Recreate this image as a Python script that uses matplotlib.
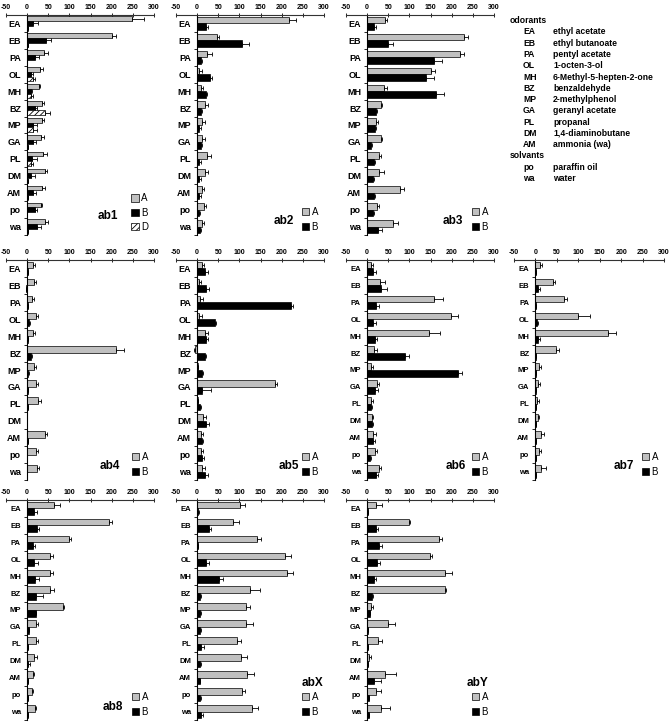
import matplotlib
matplotlib.use("Agg")
import matplotlib.pyplot as plt
from matplotlib.patches import Patch
import numpy as np

plt.rcParams["font.family"] = ["Liberation Sans", "DejaVu Sans"]
plt.rcParams["hatch.linewidth"] = 0.6

CATS = ["EA", "EB", "PA", "OL", "MH", "BZ", "MP", "GA", "PL", "DM", "AM", "po", "wa"]
XTICKS = [-50, 0, 50, 100, 150, 200, 250, 300]

ODORANTS = ["EA", "EB", "PA", "OL", "MH", "BZ", "MP", "GA", "PL", "DM", "AM"]
ODOR_NAMES = ["ethyl acetate", "ethyl butanoate", "pentyl acetate", "1-octen-3-ol",
              "6-Methyl-5-hepten-2-one", "benzaldehyde", "2-methylphenol",
              "geranyl acetate", "propanal", "1,4-diaminobutane", "ammonia (wa)"]
SOLVENTS = ["po", "wa"]
SOLV_NAMES = ["paraffin oil", "water"]

# responses (mean, one-sided error) per sensillum, order = CATS
ab1_a = [247, 200, 40, 30, 27, 35, 35, 33, 38, 43, 35, 32, 42]
ab1_a_err = [30, 10, 10, 8, 3, 5, 5, 7, 10, 3, 7, 4, 7]
ab1_b = [14, 44, 18, 8, 8, 18, 15, 15, 12, 10, 15, 18, 23]
ab1_b_err = [12, 12, 10, 5, 3, 6, 8, 6, 12, 8, 6, 5, 10]
ab1_d = [1, 2, 0, 14, 10, 43, 15, 2, 10, 2, 2, 0, 2]
ab1_d_err = [0, 0, 0, 4, 3, 12, 8, 0, 3, 0, 0, 0, 0]

ab2_a = [217, 46, 24, 5, 8, 18, 12, 12, 24, 18, 11, 16, 11]
ab2_a_err = [16, 5, 10, 6, 5, 8, 6, 6, 8, 8, 6, 5, 6]
ab2_b = [20, 105, 8, 30, 20, 8, 5, 8, 5, 5, 5, 5, 6]
ab2_b_err = [5, 17, 3, 4, 4, 3, 3, 3, 4, 3, 3, 2, 4]

ab3_a = [42, 228, 220, 152, 40, 32, 21, 32, 28, 28, 77, 24, 62]
ab3_a_err = [6, 10, 10, 8, 8, 4, 4, 2, 4, 12, 10, 5, 10]
ab3_b = [16, 50, 158, 140, 163, 20, 18, 10, 16, 14, 17, 14, 26]
ab3_b_err = [4, 10, 20, 18, 18, 3, 3, 1, 3, 3, 2, 2, 8]

ab4_a = [13, 16, 12, 20, 13, 211, 16, 22, 25, -1, 43, 20, 23]
ab4_a_err = [5, 5, 4, 6, 5, 18, 5, 3, 8, 0, 3, 5, 6]
ab4_b = [2, -2, 2, 4, 3, 9, 3, 1, 1, -1, 1, -1, -1]
ab4_b_err = [0, 0, 0, 2, 0, 3, 2, 0, 0, 0, 0, 0, 0]

ab5_a = [12, 4, 6, 4, 19, -6, 1, 185, 1, 15, 8, 8, 12]
ab5_a_err = [5, 4, 7, 7, 6, 2, 2, 3, 0, 6, 5, 6, 6]
ab5_b = [18, 22, 222, 43, 22, 19, 12, 12, 6, 22, 12, 12, 19]
ab5_b_err = [8, 5, 4, 2, 4, 3, 3, 20, 4, 5, 3, 5, 6]

ab6_a = [8, 31, 157, 199, 147, 17, 9, 23, 10, 12, 15, 19, 27]
ab6_a_err = [5, 12, 23, 16, 25, 6, 6, 5, 3, 3, 6, 5, 6]
ab6_b = [15, 33, 22, 14, 19, 90, 214, 19, 8, 12, 14, 6, 21]
ab6_b_err = [6, 15, 5, 6, 5, 10, 10, 6, 4, 2, 5, 2, 5]

ab7_a = [10, 40, 67, 100, 170, 47, 9, 7, 4, 6, 12, 8, 13]
ab7_a_err = [6, 5, 6, 27, 18, 7, 4, 4, 5, 3, 9, 5, 12]
ab7_b = [1, 7, 1, 4, 7, 1, 1, 1, 1, 1, 1, 1, 1]
ab7_b_err = [0, 3, 0, 2, 3, 0, 0, 0, 0, 0, 0, 0, 0]

ab8_a = [63, 194, 100, 55, 53, 55, 84, 21, 22, 16, 14, 11, 18]
ab8_a_err = [15, 7, 4, 7, 9, 9, 4, 5, 4, 7, 3, 3, 4]
ab8_b = [17, 24, 15, 16, 19, 21, 21, 5, 1, 1, 1, 1, 1]
ab8_b_err = [7, 3, 4, 9, 9, 16, 0, 0, 0, 5, 0, 0, 0]

abx_a = [101, 84, 142, 208, 213, 126, 116, 116, 94, 104, 118, 105, 130]
abx_a_err = [13, 14, 8, 13, 14, 22, 10, 17, 9, 15, 16, 9, 14]
abx_b = [2, 28, 2, 20, 52, 7, 7, 6, 10, 6, 6, 6, 10]
abx_b_err = [2, 4, 0, 8, 10, 2, 2, 2, 6, 2, 1, 3, 3]

aby_a = [21, 98, 171, 148, 183, 184, 8, 50, 25, 4, 42, 21, 32]
aby_a_err = [13, 3, 6, 6, 18, 3, 6, 17, 10, 5, 26, 12, 22]
aby_b = [1, 21, 29, 24, 16, 12, 6, 1, 1, 1, 17, 4, 4]
aby_b_err = [0, 5, 5, 6, 6, 2, 1, 0, 0, 0, 16, 0, 0]

GREY = "#c0c0c0"
STYLE = {"A": dict(facecolor=GREY, hatch=None),
         "B": dict(facecolor="black", hatch=None),
         "D": dict(facecolor="white", hatch="//////")}

W, H = 670, 726
fig = plt.figure(figsize=(W / 100, H / 100), dpi=100)

COLS = [(6, 154), (176, 324), (346, 494), (514, 664)]
ROWS = [(15, 235), (260, 480), (500, 720)]


def px_axes(col, row):
    l, r = COLS[col]
    t, b = ROWS[row]
    return fig.add_axes([l / W, 1 - b / H, (r - l) / W, (b - t) / H])


def panel(col, row, name, series, labsize, tag_xy):
    ax = px_axes(col, row)
    # spine position first: moving it resets the tick settings
    for s in ("right", "bottom"):
        ax.spines[s].set_visible(False)
    ax.spines["left"].set_position(("data", 0))
    ax.spines["left"].set_linewidth(0.8)
    ax.spines["top"].set_linewidth(0.8)
    ax.spines["top"].set_color("#333333")
    ax.patch.set_visible(False)

    n = len(series)
    h = 0.28 if n == 3 else 0.39
    y = np.arange(len(CATS))
    for k, (lab, vals, errs) in enumerate(series):
        pos = y + (k - (n - 1) / 2) * h
        vals = np.array(vals, float)
        errs = np.array(errs, float)
        st = STYLE[lab]
        ax.barh(pos, vals, height=h, color=st["facecolor"], edgecolor="black",
                linewidth=0.5, hatch=st["hatch"], zorder=2)
        lo = np.where(vals < 0, errs, 0)
        hi = np.where(vals < 0, 0, errs)
        ax.errorbar(vals, pos, xerr=[lo, hi], fmt="none", ecolor="black",
                    elinewidth=0.6, capsize=1.4, capthick=0.6, zorder=3)
    ax.set_xlim(-50, 300)
    ax.set_ylim(len(CATS) - 0.5, -0.5)
    ax.xaxis.tick_top()
    ax.set_xticks(XTICKS)
    ax.set_xticklabels([str(t) for t in XTICKS], fontsize=5, fontweight="bold")
    ax.tick_params(axis="x", length=2.5, width=0.6, pad=1.5, direction="inout")
    ax.set_yticks(y)
    ax.set_yticklabels(CATS, fontsize=labsize, fontweight="bold")
    ax.set_yticks(np.arange(len(CATS) + 1) - 0.5, minor=True)
    ax.tick_params(axis="y", which="major", length=0, pad=4.5)
    ax.tick_params(axis="y", which="minor", length=2.2, width=0.6)

    ax.text(tag_xy[0], tag_xy[1], name, transform=ax.transAxes, fontsize=8.5,
            fontweight="bold", ha="center", va="center")
    handles = [Patch(facecolor=STYLE[lab]["facecolor"], edgecolor="black",
                     hatch=STYLE[lab]["hatch"], linewidth=0.5) for lab, _, _ in series]
    labels = [lab for lab, _, _ in series]
    ax.legend(handles, labels, loc="lower right", bbox_to_anchor=(0.98, 0.0),
              frameon=False, fontsize=7, handlelength=0.75, handleheight=0.75,
              handletextpad=0.25, labelspacing=0.55 if n == 2 else 0.45,
              borderpad=0.1, borderaxespad=0.2)
    return ax


panel(0, 0, "ab1", [("A", ab1_a, ab1_a_err), ("B", ab1_b, ab1_b_err),
                    ("D", ab1_d, ab1_d_err)], 6.5, (0.69, 0.085))
panel(1, 0, "ab2", [("A", ab2_a, ab2_a_err), ("B", ab2_b, ab2_b_err)], 6.5, (0.73, 0.065))
panel(2, 0, "ab3", [("A", ab3_a, ab3_a_err), ("B", ab3_b, ab3_b_err)], 6.5, (0.72, 0.065))
panel(0, 1, "ab4", [("A", ab4_a, ab4_a_err), ("B", ab4_b, ab4_b_err)], 6.5, (0.70, 0.065))
panel(1, 1, "ab5", [("A", ab5_a, ab5_a_err), ("B", ab5_b, ab5_b_err)], 6.5, (0.76, 0.065))
panel(2, 1, "ab6", [("A", ab6_a, ab6_a_err), ("B", ab6_b, ab6_b_err)], 5.5, (0.74, 0.065))
panel(3, 1, "ab7", [("A", ab7_a, ab7_a_err), ("B", ab7_b, ab7_b_err)], 5.5, (0.73, 0.065))
panel(0, 2, "ab8", [("A", ab8_a, ab8_a_err), ("B", ab8_b, ab8_b_err)], 5.5, (0.72, 0.06))
panel(1, 2, "abX", [("A", abx_a, abx_a_err), ("B", abx_b, abx_b_err)], 5.5, (0.92, 0.17))
panel(2, 2, "abY", [("A", aby_a, aby_a_err), ("B", aby_b, aby_b_err)], 5.5, (0.89, 0.17))


# abbreviation key, top right
def key_text(x, y, s):
    fig.text(x / W, 1 - y / H, s, fontsize=6.2, fontweight="bold", va="center")


step = 11.27
yk = 20.7
key_text(510, yk, "odorants")
for ab, nm in zip(ODORANTS, ODOR_NAMES):
    yk += step
    key_text(523, yk, ab)
    key_text(553, yk, nm)
yk += step
key_text(510, yk, "solvants")
for ab, nm in zip(SOLVENTS, SOLV_NAMES):
    yk += step
    key_text(523, yk, ab)
    key_text(553, yk, nm)

fig.savefig("out.png", dpi=100)
